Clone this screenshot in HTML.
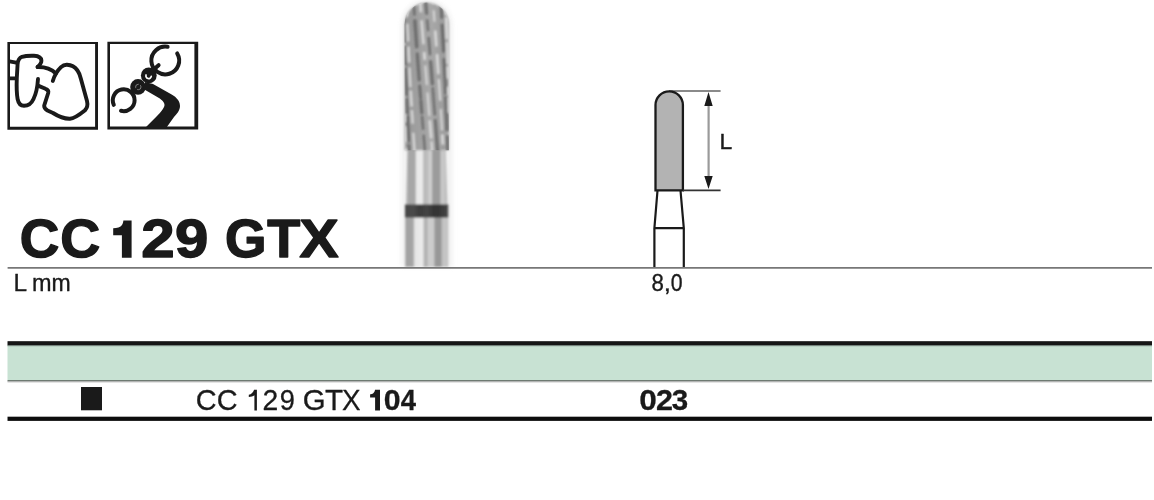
<!DOCTYPE html>
<html><head><meta charset="utf-8">
<style>
html,body{margin:0;padding:0;background:#fff;}
body{width:1154px;height:500px;position:relative;overflow:hidden;font-family:"Liberation Sans",sans-serif;color:#1a1a1a;}
#svg{position:absolute;left:0;top:0;}
</style></head><body>
<svg id="svg" width="1154" height="500" viewBox="0 0 1154 500">
  <!-- icon boxes -->
  <path d="M7.4 41.9 H98 V129.7 H7.4 Z M10 44.1 V126.8 H95.1 V44.1 Z" fill="#1a1a1a" fill-rule="evenodd"/>
  <path d="M107.4 41.7 H198.2 V129.4 H107.4 Z M110 43.9 V126.6 H194.4 V43.9 Z" fill="#1a1a1a" fill-rule="evenodd"/>
  <!-- icon 1 -->
  <g fill="none" stroke="#1a1a1a" stroke-width="3.9" stroke-linecap="round" stroke-linejoin="round">
    <path d="M9.5 61.4 L17.6 62.8 M9.5 78.4 H16.2" stroke-linecap="butt"/>
    <path d="M38 79 C37.5 87 36.2 93.5 33.5 99 C31.5 103.5 28 105.8 24 105.8 C20.5 105.8 18.4 103 17.6 99 C16.7 94 16.5 86 16.8 78 L17.6 64 C17.9 60.5 19 58 22 56.8 C25 55.9 30 55.7 34 55.8 C38 56 41.2 57.4 41.4 60.6 C41.6 63.2 39.3 65.3 37.6 67"/>
    <path d="M37.6 67 C45 66.8 51 68.7 56 73.5"/>
    <path d="M52.8 81 C54 77 57 71 61 67.2 C63 65.3 65 64.7 67 64.8 C71 65 75 67 77.5 70.5 C79 72.5 80 75.5 80.8 78.5 L87 101 C88 105 87.3 108 84.8 110.5 C80.5 114 75 118.5 70 118.7 C64.5 118.9 58.5 116.5 53 113 L47.5 110.5 C45 109 44 107.5 44.2 105.5 L48.2 93 C48.8 90.5 47.8 89.5 45.5 88.8 L38 85.6"/>
  </g>
  <!-- icon 2 -->
  <g fill="none" stroke="#1a1a1a" stroke-width="4" stroke-linecap="round">
    <path d="M167.6 46.8 A13.9 13.9 0 1 0 177.2 53.4"/>
    <path d="M113.8 104.8 A10.9 10.9 0 1 1 121 110.8"/>
    <circle cx="148.8" cy="75.4" r="7.9" fill="#1a1a1a" stroke="none"/>
    <path d="M146.06 74.98 A2.7 2.7 0 1 0 151.26 76.37" stroke="#fff" stroke-width="1.7"/>
    <circle cx="138" cy="86.9" r="7.8" fill="#1a1a1a" stroke="none"/>
    <circle cx="138.3" cy="87" r="2.7" stroke="#8a8a8a" stroke-width="0.9" stroke-dasharray="5 2.5"/>
    <path d="M158.6 65.2 L151.4 71.6"/>
  </g>
  <path d="M145 82 L153 84 L169 93 C175 96 180 100 180 106 C180 110 177 114 174 117 L166.5 127.5 L145.5 127.5 L157 116 C160 113 164.5 108 164.5 105 C164.5 101.5 161 99.5 159 98 L143.5 89 Z" fill="#1a1a1a"/>

  <!-- bur -->
  <defs>
    <linearGradient id="shk" gradientUnits="userSpaceOnUse" x1="405" x2="448.2" y1="0" y2="0"><stop offset="0.0000" stop-color="#c4c4c4"/><stop offset="0.0301" stop-color="#a2a2a2"/><stop offset="0.1898" stop-color="#a6a6a6"/><stop offset="0.2269" stop-color="#e6e6e6"/><stop offset="0.4120" stop-color="#ececec"/><stop offset="0.4444" stop-color="#b2b2b2"/><stop offset="0.5139" stop-color="#b4b4b4"/><stop offset="0.5417" stop-color="#cecece"/><stop offset="0.6667" stop-color="#cbcbcb"/><stop offset="0.6944" stop-color="#999999"/><stop offset="0.8333" stop-color="#979797"/><stop offset="0.8611" stop-color="#c2c2c2"/><stop offset="0.9722" stop-color="#c6c6c6"/><stop offset="1.0000" stop-color="#b0b0b0"/></linearGradient>
    <linearGradient id="shku" gradientUnits="userSpaceOnUse" x1="407.4" x2="445.8" y1="0" y2="0"><stop offset="0.0000" stop-color="#b8b8b8"/><stop offset="0.0260" stop-color="#a6a6a6"/><stop offset="0.2031" stop-color="#a8a8a8"/><stop offset="0.2344" stop-color="#e8e8e8"/><stop offset="0.3906" stop-color="#ececec"/><stop offset="0.4219" stop-color="#bababa"/><stop offset="0.5313" stop-color="#bcbcbc"/><stop offset="0.5625" stop-color="#d0d0d0"/><stop offset="0.6302" stop-color="#cccccc"/><stop offset="0.6563" stop-color="#9c9c9c"/><stop offset="0.8438" stop-color="#9a9a9a"/><stop offset="0.8750" stop-color="#c8c8c8"/><stop offset="0.9792" stop-color="#c6c6c6"/><stop offset="1.0000" stop-color="#b8b8b8"/></linearGradient>
    <linearGradient id="hd" gradientUnits="userSpaceOnUse" x1="404.5" x2="449" y1="0" y2="0">
      <stop offset="0" stop-color="#b4b4b4"/><stop offset="0.06" stop-color="#989898"/><stop offset="0.3" stop-color="#a0a0a0"/><stop offset="0.6" stop-color="#a8a8a8"/><stop offset="0.9" stop-color="#9c9c9c"/><stop offset="1" stop-color="#b0b0b0"/>
    </linearGradient>
    <linearGradient id="band" gradientUnits="userSpaceOnUse" x1="405" x2="448.2" y1="0" y2="0">
      <stop offset="0" stop-color="#444"/><stop offset="0.2" stop-color="#4a4a4a"/><stop offset="0.35" stop-color="#3a3a3a"/><stop offset="0.5" stop-color="#444"/><stop offset="0.7" stop-color="#333"/><stop offset="0.85" stop-color="#3a3a3a"/><stop offset="1" stop-color="#4a4a4a"/>
    </linearGradient>
    <clipPath id="hclip"><path d="M404.5 150.2 V24.75 A22.25 22.25 0 0 1 449 24.75 V150.2 Z"/></clipPath>
    <filter id="soft" x="-20%" y="-5%" width="140%" height="110%"><feGaussianBlur stdDeviation="0.8"/></filter>
    <filter id="soft2" x="-20%" y="-5%" width="140%" height="110%"><feGaussianBlur stdDeviation="0.8"/></filter>
    <filter id="halo" x="-50%" y="-10%" width="200%" height="120%"><feGaussianBlur stdDeviation="2"/></filter>
  </defs>
  <path d="M401 152 V25 A25.75 25.75 0 0 1 452.5 25 V267 H401 Z" fill="#ececec" filter="url(#halo)" opacity="0.7"/>
  <g filter="url(#soft)">
    <path d="M405 204.4 V267 H448.2 V204.4 Z" fill="url(#shk)"/>
    <path d="M407.4 150 L406 204.8 H447.4 L445.8 150 Z" fill="url(#shku)"/>
    <rect x="405" y="204.4" width="43.2" height="13.2" fill="url(#band)"/>
    <path d="M404.5 150.2 V24.75 A22.25 22.25 0 0 1 449 24.75 V150.2 Z" fill="url(#hd)"/>
  </g>
  <g clip-path="url(#hclip)">
    <g filter="url(#soft2)" fill="none" stroke-linecap="round">
<g stroke="#5c5c5c" opacity="0.72"><path d="M425.2 -4.6 L425.4 -2.6 L425.5 -0.6 L425.7 1.4 L425.9 3.4 L426.0 5.4 L426.2 7.4 L426.4 9.4 L426.5 11.4 L426.7 13.4" stroke-width="3.1"/><path d="M427.2 20.2 L427.4 22.2 L427.6 24.2 L427.7 26.2 L427.9 28.2 L428.1 30.2" stroke-width="2.4"/><path d="M428.7 38.1 L428.9 40.1 L429.0 42.1 L429.2 44.1 L429.4 46.1 L429.5 48.1 L429.7 50.1 L429.9 52.1 L430.0 54.1" stroke-width="2.7"/><path d="M430.6 61.8 L430.8 63.8 L431.0 65.8 L431.1 67.8 L431.3 69.8 L431.5 71.8 L431.6 73.8 L431.8 75.8 L431.9 77.8 L432.1 79.8 L432.3 81.8 L432.4 83.8" stroke-width="3.4"/><path d="M432.8 88.4 L432.9 90.4 L433.1 92.4 L433.3 94.4 L433.4 96.4 L433.6 98.4 L433.7 100.4 L433.9 102.4 L434.0 104.4 L434.2 106.4 L434.3 108.4 L434.5 110.4 L434.7 112.4 L434.8 114.4" stroke-width="2.6"/><path d="M435.2 120.2 L435.4 122.2 L435.6 124.2 L435.7 126.2 L435.9 128.2 L436.0 130.2 L436.2 132.2 L436.3 134.2 L436.4 136.2 L436.6 138.2 L436.7 140.2 L436.9 142.2 L437.0 144.2 L437.2 146.2 L437.3 148.2 L437.5 150.2 L437.6 152.2" stroke-width="3.0"/><path d="M440.2 -6.5 L440.4 -4.5 L440.5 -2.5 L440.6 -0.5 L440.8 1.5 L440.9 3.5 L441.0 5.5 L441.1 7.5 L441.3 9.5 L441.4 11.5 L441.5 13.5 L441.6 15.5 L441.8 17.5" stroke-width="3.1"/><path d="M442.2 25.2 L442.3 27.2 L442.5 29.2 L442.6 31.2 L442.7 33.2 L442.8 35.2 L442.9 37.2 L443.0 39.2 L443.1 41.2 L443.2 43.2 L443.4 45.2 L443.5 47.2 L443.6 49.2 L443.7 51.2" stroke-width="3.5"/><path d="M444.1 59.3 L444.2 61.3 L444.3 63.3 L444.4 65.3 L444.5 67.3 L444.6 69.3 L444.7 71.3 L444.8 73.3 L444.9 75.3 L445.0 77.3 L445.1 79.3 L445.2 81.3 L445.3 83.3 L445.4 85.3 L445.4 87.3 L445.5 89.3 L445.6 91.3 L445.7 93.3" stroke-width="3.2"/><path d="M445.9 97.8 L446.0 99.8 L446.1 101.8 L446.1 103.8 L446.2 105.8 L446.3 107.8 L446.4 109.8 L446.5 111.8 L446.5 113.8 L446.6 115.8 L446.7 117.8 L446.8 119.8 L446.8 121.8 L446.9 123.8 L447.0 125.8 L447.0 127.8 L447.1 129.8" stroke-width="3.6"/><path d="M447.3 136.7 L447.4 138.7 L447.5 140.7 L447.5 142.7 L447.6 144.7 L447.6 146.7 L447.7 148.7 L447.7 150.7 L447.8 152.7 L447.8 154.7 L447.9 156.7 L447.9 158.7 L448.0 160.7" stroke-width="3.3"/><path d="M404.8 13.9 L404.8 15.9 L404.8 17.9 L404.8 19.9 L404.9 21.9 L404.9 23.9 L404.9 25.9 L405.0 27.9 L405.0 29.9 L405.0 31.9 L405.1 33.9 L405.1 35.9 L405.1 37.9 L405.2 39.9 L405.2 41.9" stroke-width="2.5"/><path d="M405.3 46.6 L405.4 48.6 L405.4 50.6 L405.5 52.6 L405.5 54.6 L405.6 56.6 L405.6 58.6 L405.7 60.6 L405.7 62.6 L405.8 64.6" stroke-width="2.8"/><path d="M405.9 68.6 L405.9 70.6 L406.0 72.6 L406.1 74.6 L406.1 76.6 L406.2 78.6 L406.2 80.6 L406.3 82.6 L406.4 84.6 L406.4 86.6 L406.5 88.6 L406.6 90.6 L406.6 92.6 L406.7 94.6" stroke-width="3.1"/><path d="M406.9 99.2 L407.0 101.2 L407.0 103.2 L407.1 105.2 L407.2 107.2 L407.3 109.2 L407.3 111.2 L407.4 113.2" stroke-width="2.8"/><path d="M407.6 116.8 L407.7 118.8 L407.7 120.8 L407.8 122.8 L407.9 124.8 L408.0 126.8 L408.1 128.8 L408.2 130.8 L408.3 132.8 L408.4 134.8 L408.5 136.8 L408.6 138.8 L408.6 140.8" stroke-width="3.3"/><path d="M408.9 145.2 L409.0 147.2 L409.1 149.2 L409.2 151.2 L409.3 153.2 L409.4 155.2 L409.5 157.2" stroke-width="2.6"/><path d="M413.0 -7.4 L413.1 -5.4 L413.2 -3.4 L413.4 -1.4 L413.5 0.6 L413.6 2.6 L413.8 4.6 L413.9 6.6 L414.0 8.6 L414.2 10.6 L414.3 12.6 L414.4 14.6" stroke-width="2.5"/><path d="M414.9 20.8 L415.0 22.8 L415.1 24.8 L415.3 26.8 L415.4 28.8 L415.6 30.8 L415.7 32.8 L415.9 34.8 L416.0 36.8 L416.1 38.8 L416.3 40.8 L416.4 42.8 L416.6 44.8 L416.7 46.8" stroke-width="3.5"/><path d="M417.3 53.9 L417.4 55.9 L417.6 57.9 L417.7 59.9 L417.9 61.9 L418.0 63.9 L418.2 65.9 L418.3 67.9 L418.5 69.9 L418.6 71.9 L418.8 73.9 L418.9 75.9 L419.1 77.9 L419.2 79.9" stroke-width="3.3"/><path d="M419.7 86.1 L419.9 88.1 L420.0 90.1 L420.2 92.1 L420.3 94.1 L420.5 96.1 L420.7 98.1" stroke-width="3.1"/><path d="M420.9 100.8 L421.0 102.8 L421.2 104.8 L421.3 106.8 L421.5 108.8 L421.7 110.8 L421.8 112.8" stroke-width="3.3"/><path d="M422.1 116.8 L422.3 118.8 L422.5 120.8 L422.6 122.8 L422.8 124.8 L423.0 126.8 L423.1 128.8" stroke-width="2.5"/><path d="M423.7 135.6 L423.8 137.6 L424.0 139.6 L424.2 141.6 L424.3 143.6 L424.5 145.6 L424.6 147.6 L424.8 149.6" stroke-width="2.4"/></g>
<g stroke="#e4e4e4" opacity="0.85"><path d="M432.6 -3.3 L432.7 -1.3 L432.9 0.7 L433.1 2.7" stroke-width="2.6"/><path d="M433.7 11.0 L433.9 13.0 L434.0 15.0 L434.2 17.0 L434.3 19.0 L434.5 21.0" stroke-width="1.9"/><path d="M435.3 31.5 L435.4 33.5 L435.6 35.5 L435.7 37.5 L435.9 39.5 L436.0 41.5 L436.2 43.5 L436.3 45.5" stroke-width="2.6"/><path d="M437.1 55.1 L437.2 57.1 L437.3 59.1 L437.5 61.1 L437.6 63.1 L437.8 65.1 L437.9 67.1 L438.1 69.1 L438.2 71.1 L438.3 73.1" stroke-width="2.8"/><path d="M438.8 79.8 L438.9 81.8 L439.1 83.8 L439.2 85.8 L439.3 87.8 L439.5 89.8 L439.6 91.8 L439.8 93.8 L439.9 95.8 L440.0 97.8 L440.2 99.8" stroke-width="2.3"/><path d="M440.8 109.7 L440.9 111.7 L441.0 113.7 L441.2 115.7 L441.3 117.7 L441.4 119.7 L441.5 121.7 L441.7 123.7 L441.8 125.7 L441.9 127.7 L442.0 129.7" stroke-width="2.0"/><path d="M442.4 135.5 L442.5 137.5 L442.6 139.5 L442.7 141.5 L442.8 143.5" stroke-width="2.8"/><path d="M443.3 151.5 L443.4 153.5 L443.5 155.5 L443.6 157.5 L443.7 159.5 L443.8 161.5 L443.9 163.5 L444.0 165.5 L444.1 167.5" stroke-width="2.2"/><path d="M445.5 -1.7 L445.6 0.3 L445.6 2.3 L445.7 4.3 L445.8 6.3 L445.9 8.3 L446.0 10.3 L446.1 12.3 L446.1 14.3" stroke-width="2.2"/><path d="M446.3 18.1 L446.4 20.1 L446.4 22.1 L446.5 24.1 L446.6 26.1 L446.7 28.1 L446.7 30.1 L446.8 32.1 L446.9 34.1 L447.0 36.1 L447.0 38.1" stroke-width="2.9"/><path d="M447.2 43.1 L447.3 45.1 L447.3 47.1 L447.4 49.1 L447.4 51.1 L447.5 53.1 L447.6 55.1 L447.6 57.1 L447.7 59.1 L447.7 61.1 L447.8 63.1" stroke-width="2.3"/><path d="M447.9 67.5 L447.9 69.5 L448.0 71.5 L448.0 73.5 L448.1 75.5 L448.1 77.5" stroke-width="2.7"/><path d="M448.4 87.9 L448.4 89.9 L448.4 91.9 L448.5 93.9" stroke-width="2.5"/><path d="M448.5 98.0 L448.6 100.0 L448.6 102.0 L448.6 104.0 L448.7 106.0 L448.7 108.0 L448.7 110.0 L448.7 112.0" stroke-width="2.2"/><path d="M404.9 115.4 L404.9 117.4 L405.0 119.4 L405.0 121.4" stroke-width="2.2"/><path d="M405.1 127.2 L405.2 129.2 L405.2 131.2 L405.2 133.2 L405.3 135.2 L405.3 137.2 L405.4 139.2 L405.4 141.2" stroke-width="2.3"/><path d="M405.6 149.0 L405.7 151.0 L405.7 153.0 L405.8 155.0 L405.8 157.0 L405.9 159.0 L405.9 161.0 L406.0 163.0 L406.1 165.0 L406.1 167.0" stroke-width="1.9"/><path d="M406.4 -4.0 L406.5 -2.0 L406.5 0.0 L406.6 2.0 L406.7 4.0 L406.7 6.0 L406.8 8.0 L406.9 10.0 L407.0 12.0 L407.0 14.0 L407.1 16.0" stroke-width="2.3"/><path d="M407.5 24.7 L407.5 26.7 L407.6 28.7 L407.7 30.7 L407.8 32.7 L407.9 34.7 L408.0 36.7 L408.1 38.7 L408.1 40.7" stroke-width="2.3"/><path d="M408.5 47.6 L408.6 49.6 L408.6 51.6 L408.7 53.6 L408.8 55.6 L408.9 57.6 L409.0 59.6 L409.1 61.6" stroke-width="2.6"/><path d="M409.5 68.4 L409.6 70.4 L409.7 72.4 L409.8 74.4 L409.9 76.4 L410.0 78.4 L410.1 80.4 L410.2 82.4 L410.3 84.4 L410.5 86.4" stroke-width="2.4"/><path d="M410.8 91.6 L410.9 93.6 L411.0 95.6 L411.1 97.6 L411.2 99.6 L411.3 101.6 L411.5 103.6 L411.6 105.6" stroke-width="2.6"/><path d="M411.9 110.8 L412.0 112.8 L412.1 114.8 L412.3 116.8 L412.4 118.8 L412.5 120.8 L412.6 122.8" stroke-width="2.3"/><path d="M413.3 133.6 L413.5 135.6 L413.6 137.6 L413.7 139.6 L413.9 141.6 L414.0 143.6 L414.1 145.6 L414.3 147.6 L414.4 149.6 L414.5 151.6 L414.7 153.6 L414.8 155.6" stroke-width="2.3"/><path d="M419.3 -8.8 L419.4 -6.8 L419.6 -4.8 L419.7 -2.8 L419.9 -0.8 L420.1 1.2 L420.2 3.2 L420.4 5.2 L420.5 7.2 L420.7 9.2 L420.8 11.2" stroke-width="2.6"/><path d="M421.6 21.3 L421.8 23.3 L422.0 25.3 L422.1 27.3 L422.3 29.3 L422.5 31.3 L422.6 33.3 L422.8 35.3 L422.9 37.3 L423.1 39.3 L423.3 41.3 L423.4 43.3" stroke-width="2.5"/><path d="M424.2 53.0 L424.4 55.0 L424.5 57.0 L424.7 59.0" stroke-width="2.7"/><path d="M425.3 66.2 L425.5 68.2 L425.6 70.2 L425.8 72.2 L426.0 74.2 L426.1 76.2 L426.3 78.2 L426.5 80.2 L426.6 82.2 L426.8 84.2" stroke-width="2.0"/><path d="M427.5 93.3 L427.7 95.3 L427.9 97.3 L428.0 99.3 L428.2 101.3 L428.4 103.3 L428.5 105.3 L428.7 107.3 L428.8 109.3 L429.0 111.3 L429.2 113.3 L429.3 115.3" stroke-width="2.0"/><path d="M429.8 121.4 L430.0 123.4 L430.2 125.4 L430.3 127.4 L430.5 129.4 L430.6 131.4 L430.8 133.4 L431.0 135.4 L431.1 137.4" stroke-width="2.7"/><path d="M431.5 142.3 L431.7 144.3 L431.8 146.3 L432.0 148.3 L432.2 150.3" stroke-width="2.2"/></g>
    </g>
  </g>

  <!-- diagram -->
  <path d="M657.5 190.5 L654.4 228.2 L683.8 228.2 L680.5 190.5 M654.4 228.2 V267 M683.8 228.2 V267" fill="none" stroke="#1a1a1a" stroke-width="2.2"/>
  <line x1="669" y1="90.9" x2="720.6" y2="90.9" stroke="#8a8a8a" stroke-width="2"/>
  <path d="M655.5 190.3 V105 A13.7 13.7 0 0 1 682.9 105 V190.3 Z" fill="#b3b3b3" stroke="#1a1a1a" stroke-width="2.3"/>
  <line x1="683" y1="190.3" x2="720.6" y2="190.3" stroke="#333" stroke-width="1.8"/>
  <line x1="708.6" y1="100" x2="708.6" y2="180" stroke="#9a9a9a" stroke-width="2.2"/>
  <path d="M708.5 92 L704.3 106 L712.7 106 Z M708.5 189 L704.3 176 L712.7 176 Z" fill="#1a1a1a"/>

  <!-- lines -->
  <defs><filter id="vb" x="0" y="-100%" width="100%" height="300%"><feGaussianBlur stdDeviation="0 0.55"/></filter></defs>
  <line x1="7.6" y1="267.8" x2="1152" y2="267.8" stroke="#777" stroke-width="1.8"/>
  <g filter="url(#vb)">
    <rect x="7.5" y="345" width="1144.5" height="35.2" fill="#c8e2d3"/>
    <rect x="7.5" y="345" width="1144.5" height="1.2" fill="#7f9088"/>
    <rect x="7.5" y="341.2" width="1144.5" height="3.9" fill="#141414"/>
    <rect x="7.5" y="380" width="1144.5" height="1.3" fill="#6e7a72"/>
    <rect x="7.5" y="381.3" width="1144.5" height="1" fill="#a6a6a6"/>
    <rect x="7.5" y="416.7" width="1144.5" height="4.2" fill="#111"/>
  </g>
  <rect x="81" y="387" width="21" height="23.3" fill="#1a1a1a"/>
<g font-family="Liberation Sans, sans-serif" fill="#1a1a1a" opacity="0.999">
<text transform="translate(19.85 257.10) scale(1.021 1)" font-size="53.63" font-weight="bold" stroke="#1a1a1a" stroke-width="1.4" stroke-linejoin="round">C</text>
<text transform="translate(60.23 257.10) scale(1.032 1)" font-size="53.63" font-weight="bold" stroke="#1a1a1a" stroke-width="1.4" stroke-linejoin="round">C</text>
<path d="M131.6 220.6 V257.8 H121.9 V235.3 H113.2 V228.3 C117 228.1 120.5 227.3 122 225 C122.8 223.8 123.2 222.4 123.4 220.6 Z"/>
<text transform="translate(141.32 257.10) scale(1.119 1)" font-size="53.63" font-weight="bold" stroke="#1a1a1a" stroke-width="1.4" stroke-linejoin="round">2</text>
<text transform="translate(175.12 257.10) scale(1.116 1)" font-size="53.63" font-weight="bold" stroke="#1a1a1a" stroke-width="1.4" stroke-linejoin="round">9</text>
<text transform="translate(225.11 257.10) scale(0.995 1)" font-size="53.63" font-weight="bold" stroke="#1a1a1a" stroke-width="1.4" stroke-linejoin="round">G</text>
<text transform="translate(267.29 257.10) scale(1.007 1)" font-size="53.63" font-weight="bold" stroke="#1a1a1a" stroke-width="1.4" stroke-linejoin="round">T</text>
<text transform="translate(299.58 257.10) scale(1.094 1)" font-size="53.63" font-weight="bold" stroke="#1a1a1a" stroke-width="1.4" stroke-linejoin="round">X</text>
<text transform="translate(195.78 410.25) scale(0.975 1)" font-size="29.65" stroke="#1a1a1a" stroke-width="0.3" stroke-linejoin="round">C</text>
<text transform="translate(216.78 410.25) scale(0.975 1)" font-size="29.65" stroke="#1a1a1a" stroke-width="0.3" stroke-linejoin="round">C</text>
<path d="M256.9 389.8 V410.4 H254.4 V395.2 C253 396.3 251 396.8 248.8 396.9 V394.7 C251.3 394.4 253.3 392.4 254.1 389.8 Z"/>
<text transform="translate(262.53 410.25) scale(0.955 1)" font-size="29.65" stroke="#1a1a1a" stroke-width="0.3" stroke-linejoin="round">2</text>
<text transform="translate(279.77 410.25) scale(0.920 1)" font-size="29.65" stroke="#1a1a1a" stroke-width="0.3" stroke-linejoin="round">9</text>
<text transform="translate(302.67 410.25) scale(0.992 1)" font-size="29.65" stroke="#1a1a1a" stroke-width="0.3" stroke-linejoin="round">G</text>
<text transform="translate(325.08 410.25) scale(1.002 1)" font-size="29.65" stroke="#1a1a1a" stroke-width="0.3" stroke-linejoin="round">T</text>
<text transform="translate(341.92 410.25) scale(0.941 1)" font-size="29.65" stroke="#1a1a1a" stroke-width="0.3" stroke-linejoin="round">X</text>
<path d="M380 389.7 V410.4 H375.1 V397.6 H370.1 V394.2 C372.6 394.1 374.6 393 375 389.7 Z"/>
<text transform="translate(383.75 410.25) scale(1.021 1)" font-size="29.65" font-weight="bold" stroke="#1a1a1a" stroke-width="0.3" stroke-linejoin="round">0</text>
<text transform="translate(400.73 410.25) scale(0.926 1)" font-size="29.65" font-weight="bold" stroke="#1a1a1a" stroke-width="0.3" stroke-linejoin="round">4</text>
<text transform="translate(639.20 410.25) scale(1.064 1)" font-size="29.65" font-weight="bold" stroke="#1a1a1a" stroke-width="0.3" stroke-linejoin="round">0</text>
<text transform="translate(655.89 410.25) scale(1.030 1)" font-size="29.65" font-weight="bold" stroke="#1a1a1a" stroke-width="0.3" stroke-linejoin="round">2</text>
<text transform="translate(671.87 410.25) scale(0.997 1)" font-size="29.65" font-weight="bold" stroke="#1a1a1a" stroke-width="0.3" stroke-linejoin="round">3</text>
<text transform="translate(13.48 291.43) scale(1.039 1)" font-size="23.47" stroke="#1a1a1a" stroke-width="0.35" stroke-linejoin="round">L</text>
<text transform="translate(31.92 291.43) scale(1.000 1)" font-size="23.47" stroke="#1a1a1a" stroke-width="0.35" stroke-linejoin="round">m</text>
<text transform="translate(51.44 291.43) scale(0.982 1)" font-size="23.47" stroke="#1a1a1a" stroke-width="0.35" stroke-linejoin="round">m</text>
<text transform="translate(651.51 291.43) scale(0.949 1)" font-size="23.47" stroke="#1a1a1a" stroke-width="0.35" stroke-linejoin="round">8</text>
<text transform="translate(663.66 291.43) scale(1.100 1)" font-size="23.47" stroke="#1a1a1a" stroke-width="0.35" stroke-linejoin="round">,</text>
<text transform="translate(670.85 291.43) scale(0.905 1)" font-size="23.47" stroke="#1a1a1a" stroke-width="0.35" stroke-linejoin="round">0</text>
<text transform="translate(719.62 148.70) scale(1.004 1)" font-size="22.82" stroke="#1a1a1a" stroke-width="0.4" stroke-linejoin="round">L</text>
</g>
</svg>
</body></html>
